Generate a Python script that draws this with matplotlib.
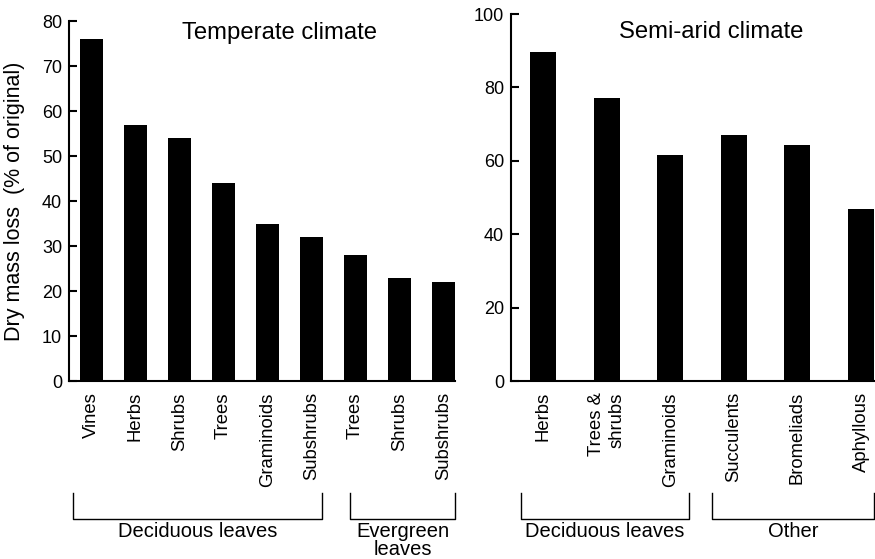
import matplotlib.pyplot as plt
import numpy as np
from matplotlib.transforms import blended_transform_factory

plt.rcParams['font.family'] = ['Liberation Sans', 'DejaVu Sans']

# Temperate climate panel
temperate_labels = ['Vines', 'Herbs', 'Shrubs', 'Trees', 'Graminoids', 'Subshrubs',
                    'Trees', 'Shrubs', 'Subshrubs']
temperate_loss = [76, 57, 54, 44, 35, 32, 28, 23, 22]
temperate_groups = ['Deciduous leaves', 'Evergreen\nleaves']

# Semi-arid climate panel
semiarid_labels = ['Herbs', 'Trees &\nshrubs', 'Graminoids', 'Succulents', 'Bromeliads', 'Aphyllous']
semiarid_loss = [89.7, 77, 61.5, 67, 64.2, 47]
semiarid_groups = ['Deciduous leaves', 'Other']

fig = plt.figure(figsize=(8.75, 5.59), dpi=100)
ax1 = fig.add_axes([0.0789, 0.3184, 0.441, 0.644])
ax2 = fig.add_axes([0.584, 0.3184, 0.416, 0.6565])


def style_axes(ax, labels, ymax, yticks):
    ax.spines['top'].set_visible(False)
    ax.spines['right'].set_visible(False)
    ax.spines['left'].set_linewidth(1.5)
    ax.spines['bottom'].set_linewidth(1.5)
    ax.set_ylim(0, ymax)
    ax.set_yticks(yticks)
    ax.tick_params(axis='y', direction='in', length=6, width=1.5, labelsize=13, pad=5)
    ax.set_xticks(np.arange(len(labels)))
    ax.set_xticklabels(labels, rotation=90, fontsize=13.3, va='top', ha='center',
                       multialignment='right', linespacing=1.3)
    ax.tick_params(axis='x', length=0, pad=8)


def draw_bracket(ax, x0, x1, label):
    tr = blended_transform_factory(ax.transData, fig.transFigure)
    y_top, y_bot = 0.118, 0.0716
    ax.plot([x0, x0, x1, x1], [y_top, y_bot, y_bot, y_top], color='black', lw=1.0,
            transform=tr, clip_on=False)
    ax.text((x0 + x1) / 2, y_bot - 0.005, label, transform=tr, ha='center', va='top',
            fontsize=14.5, linespacing=0.92)


# left panel
x1 = np.arange(len(temperate_loss))
ax1.bar(x1, temperate_loss, width=0.52, color='black')
ax1.set_xlim(-0.51, 8.26)
style_axes(ax1, temperate_labels, 80, range(0, 81, 10))
ax1.set_ylabel('Dry mass loss  (% of original)', fontsize=15.5)
ax1.yaxis.set_label_coords(-0.114, 0.5)
ax1.set_title('Temperate climate', fontsize=17.2, x=0.545, y=0.927)
draw_bracket(ax1, -0.43, 5.25, temperate_groups[0])
draw_bracket(ax1, 5.88, 8.26, temperate_groups[1])

# right panel
x2 = np.arange(len(semiarid_loss))
ax2.bar(x2, semiarid_loss, width=0.41, color='black')
ax2.set_xlim(-0.506, 5.22)
style_axes(ax2, semiarid_labels, 100, range(0, 101, 20))
ax2.set_title('Semi-arid climate', fontsize=17.2, x=0.55, y=0.911)
draw_bracket(ax2, -0.355, 2.29, semiarid_groups[0])
draw_bracket(ax2, 2.66, 5.2, semiarid_groups[1])

fig.savefig('out.png', dpi=100)
